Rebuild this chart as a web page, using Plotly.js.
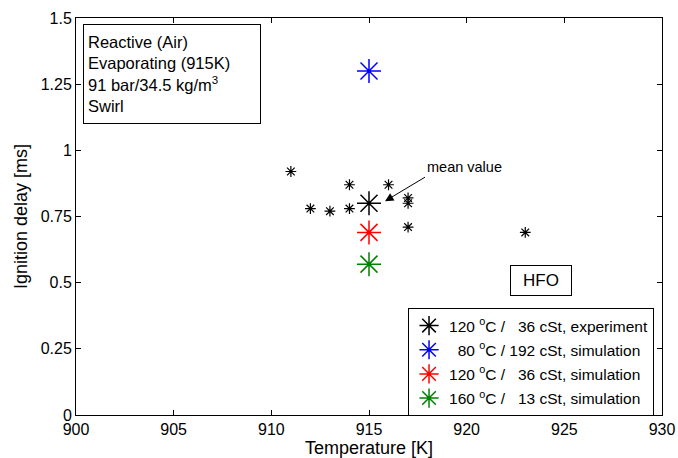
<!DOCTYPE html>
<html>
<head>
<meta charset="utf-8">
<script src="https://cdn.plot.ly/plotly-3.0.1.min.js"></script>
<style>html,body{margin:0;padding:0;background:#fff;}#chart{width:678px;height:458px;}</style>
</head>
<body>
<div id="chart"></div>
<script>
// Experimental single injections (black small asterisks)
var expTemp = [911, 912, 913, 914, 914, 916, 917, 917, 917, 923];
var expDelay = [0.92, 0.78, 0.77, 0.87, 0.78, 0.87, 0.82, 0.80, 0.71, 0.69];
// Mean value and simulations
var meanTemp = [915];
var meanDelay = [0.80];
var simTemp = [915, 915, 915];
var simDelay = [1.30, 0.69, 0.57];
var simNames = [
  '\u00a0\u00a080 <sup>o</sup>C / 192 cSt, simulation',
  '120 <sup>o</sup>C /\u00a0\u00a0\u00a036 cSt, simulation',
  '160 <sup>o</sup>C /\u00a0\u00a0\u00a013 cSt, simulation'
];
var meanName = '120 <sup>o</sup>C /\u00a0\u00a0\u00a036 cSt, experiment';
var simColors = ['#0000ff', '#ff0000', '#008000'];
var xTicks = [900, 905, 910, 915, 920, 925, 930];
var yTicks = [0, 0.25, 0.5, 0.75, 1, 1.25, 1.5];

var FONT = '"Liberation Sans", Arial, Helvetica, sans-serif';

var traces = [];
traces.push({
  x: expTemp, y: expDelay, type: 'scatter', mode: 'markers', showlegend: false,
  marker: {symbol: 'asterisk-open', size: 9, color: '#000', line: {color: '#000', width: 1.2}}
});
traces.push({
  x: meanTemp, y: meanDelay, type: 'scatter', mode: 'markers', name: meanName, legendgroup: 'g0',
  marker: {symbol: 'asterisk-open', size: 20, color: '#000', line: {color: '#000', width: 1.5}}
});
for (var i = 0; i < simDelay.length; i++) {
  traces.push({
    x: [simTemp[i]], y: [simDelay[i]], type: 'scatter', mode: 'markers', name: simNames[i], legendgroup: 'g' + (i + 1),
    marker: {symbol: 'asterisk-open', size: 20, color: simColors[i], line: {color: simColors[i], width: 1.5}}
  });
}

var axisCommon = {
  showline: true, mirror: 'ticks', linecolor: '#000', linewidth: 1,
  ticks: 'inside', ticklen: 5, tickcolor: '#000', tickwidth: 1,
  showgrid: false, zeroline: false,
  tickfont: {family: FONT, size: 16, color: '#000'}
};

var layout = {
  width: 678, height: 458,
  margin: {l: 76, r: 16, t: 18, b: 43, pad: 0},
  paper_bgcolor: '#fff', plot_bgcolor: '#fff',
  font: {family: FONT, color: '#000'},
  xaxis: Object.assign({}, axisCommon, {
    range: [900, 930], tickvals: xTicks, ticktext: xTicks.map(String),
    title: {text: 'Temperature [K]', font: {family: FONT, size: 18, color: '#000'}, standoff: 4}
  }),
  yaxis: Object.assign({}, axisCommon, {
    range: [0, 1.5], tickvals: yTicks, ticktext: yTicks.map(String),
    title: {text: 'Ignition delay [ms]', font: {family: FONT, size: 18, color: '#000'}, standoff: 8}
  }),
  legend: {
    x: 0.5666, y: 0.2695, xanchor: 'left', yanchor: 'top',
    bgcolor: '#fff', bordercolor: '#000', borderwidth: 1,
    font: {family: FONT, size: 15.5, color: '#000'},
    traceorder: 'grouped', tracegroupgap: 1
  },
  annotations: [
    {
      xref: 'paper', yref: 'paper', x: 0.012, y: 0.985, xanchor: 'left', yanchor: 'top',
      text: 'Reactive (Air)<br>Evaporating (915K)<br>91 bar/34.5 kg/m<sup>3</sup><br>Swirl',
      align: 'left', showarrow: false, width: 168, height: 90,
      bordercolor: '#000', borderwidth: 1, borderpad: 4, bgcolor: '#fff',
      font: {family: FONT, size: 16.5, color: '#000'}
    },
    {
      xref: 'paper', yref: 'paper', x: 0.7935, y: 0.3388, xanchor: 'center', yanchor: 'middle',
      text: 'HFO', showarrow: false, width: 54, height: 23,
      bordercolor: '#000', borderwidth: 1, borderpad: 3, bgcolor: '#fff',
      font: {family: FONT, size: 17, color: '#000'}
    },
    {
      x: 915.82, y: 0.808, xref: 'x', yref: 'y',
      text: 'mean value', showarrow: true, ax: 40, ay: -24,
      xanchor: 'left', yanchor: 'bottom',
      arrowhead: 2, arrowsize: 1.7, arrowwidth: 1, arrowcolor: '#000',
      font: {family: FONT, size: 14.5, color: '#000'}
    }
  ]
};

Plotly.newPlot('chart', traces, layout, {displayModeBar: false, staticPlot: true});
</script>
</body>
</html>
